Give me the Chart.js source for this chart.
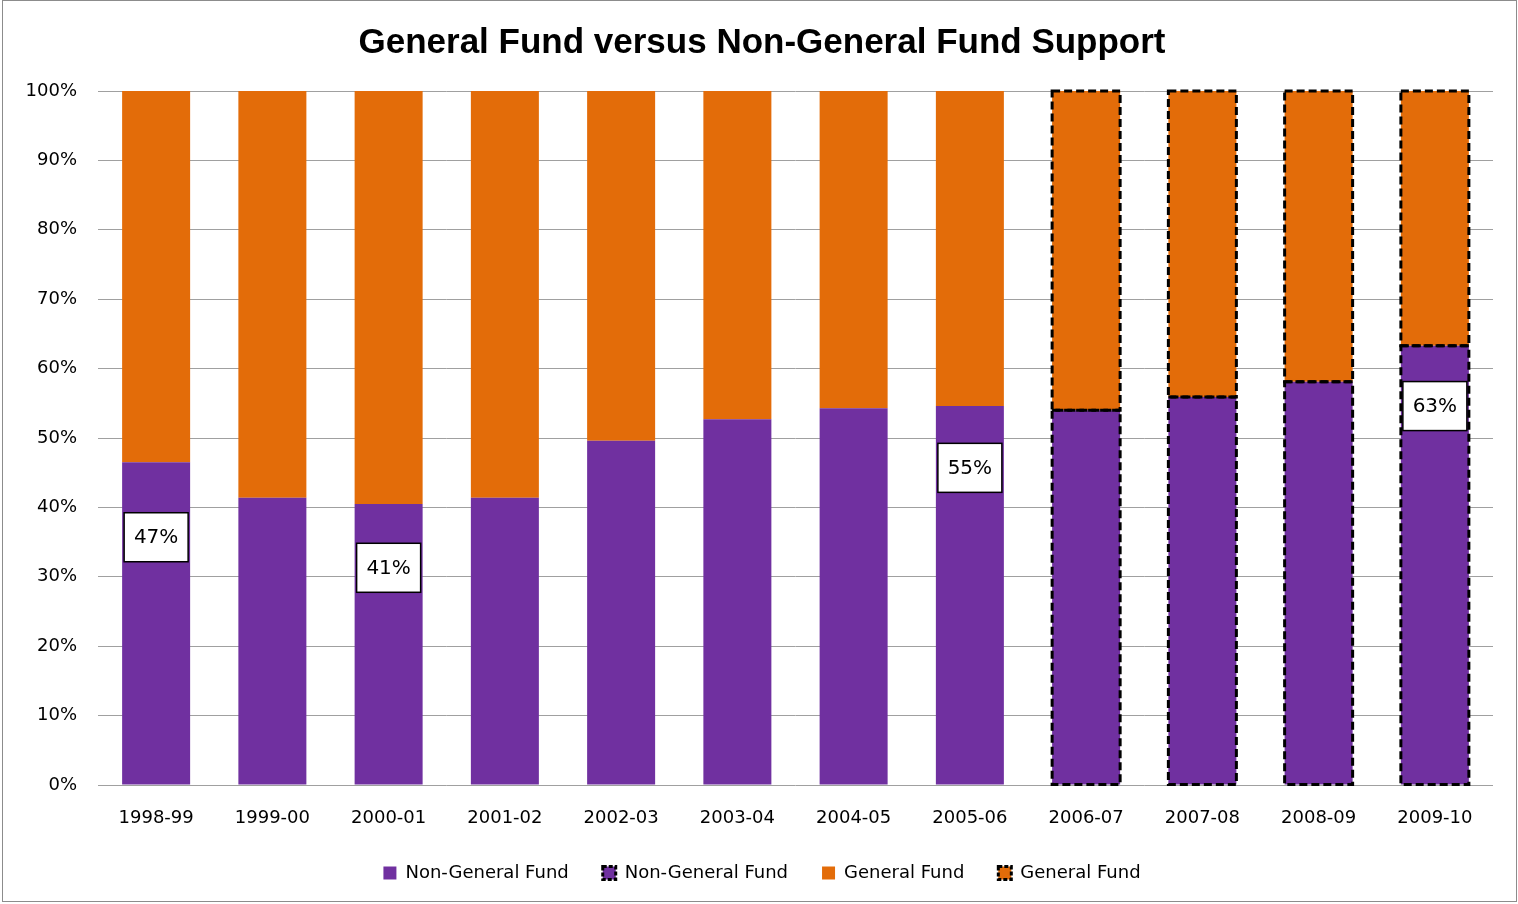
<!DOCTYPE html>
<html>
<head>
<meta charset="utf-8">
<script src="https://cdn.jsdelivr.net/npm/chart.js@4.4.1/dist/chart.umd.min.js"></script>
<style>
  html, body { margin: 0; padding: 0; background: #fff; }
  #wrap { width: 1518px; height: 904px; position: relative; }
</style>
</head>
<body>
<div id="wrap"><canvas id="c" width="1518" height="904"></canvas></div>
<script>
// ---- data ----
const categories = ['1998-99','1999-00','2000-01','2001-02','2002-03','2003-04','2004-05','2005-06','2006-07','2007-08','2008-09','2009-10'];
const nonGeneralActual   = [46.5, 41.4, 40.5, 41.4, 49.6, 52.7, 54.3, 54.6, null, null, null, null];
const nonGeneralProjected = [null, null, null, null, null, null, null, null, 54.0, 55.9, 58.1, 63.3];
const generalActual      = [53.5, 58.6, 59.5, 58.6, 50.4, 47.3, 45.7, 45.4, null, null, null, null];
const generalProjected   = [null, null, null, null, null, null, null, null, 46.0, 44.1, 41.9, 36.7];
const yTicks = [0, 10, 20, 30, 40, 50, 60, 70, 80, 90, 100];
// data label boxes: category index, text, value at which the box is centred
const labelIndex = [0, 2, 7, 11];
const labelText  = ['47%', '41%', '55%', '63%'];
const labelAt    = [35.7, 31.3, 45.7, 54.6];

const PURPLE = '#7030A0';
const ORANGE = '#E36C09';
const FONT = '"DejaVu Sans", sans-serif';

const dashedSets = [1, 3];

const framePlugin = {
  id: 'frame',
  beforeDraw(chart) {
    const ctx = chart.ctx;
    ctx.save();
    ctx.fillStyle = '#fff';
    ctx.fillRect(0, 0, chart.width, chart.height);
    ctx.restore();
  },
  afterDraw(chart) {
    const ctx = chart.ctx;
    ctx.save();
    ctx.strokeStyle = '#8c8c8c';
    ctx.lineWidth = 1;
    ctx.strokeRect(2.5, 0.5, 1514, 901);
    ctx.restore();
  }
};

const dashPlugin = {
  id: 'dashBorders',
  afterDatasetsDraw(chart) {
    const ctx = chart.ctx;
    ctx.save();
    ctx.strokeStyle = '#000';
    ctx.lineWidth = 3;
    ctx.setLineDash([8, 4]);
    dashedSets.forEach(di => {
      const meta = chart.getDatasetMeta(di);
      meta.data.forEach((bar, i) => {
        if (chart.data.datasets[di].data[i] == null) return;
        const p = bar.getProps(['x', 'y', 'base', 'width'], true);
        const l = p.x - p.width / 2, r = p.x + p.width / 2;
        const t = Math.min(p.y, p.base), b = Math.max(p.y, p.base);
        ctx.strokeRect(l, t, r - l, b - t);
      });
    });
    ctx.restore();

    // data labels
    const ys = chart.scales.y;
    const meta0 = chart.getDatasetMeta(0);
    const meta1 = chart.getDatasetMeta(1);
    ctx.save();
    ctx.font = '20px ' + FONT;
    ctx.textAlign = 'center';
    ctx.textBaseline = 'middle';
    labelIndex.forEach((ci, k) => {
      const bar = (nonGeneralActual[ci] != null ? meta0 : meta1).data[ci];
      const cx = bar.x;
      const cy = ys.getPixelForValue(labelAt[k]);
      const w = 64, h = 49;
      ctx.fillStyle = '#fff';
      ctx.fillRect(cx - w / 2, cy - h / 2, w, h);
      ctx.strokeStyle = '#000';
      ctx.lineWidth = 1.5;
      ctx.setLineDash([]);
      ctx.strokeRect(cx - w / 2, cy - h / 2, w, h);
      ctx.fillStyle = '#000';
      ctx.fillText(labelText[k], cx, cy + 1);
    });
    ctx.restore();
  }
};

new Chart(document.getElementById('c'), {
  type: 'bar',
  data: {
    labels: categories,
    datasets: [
      { label: 'Non-General Fund', data: nonGeneralActual, backgroundColor: PURPLE, borderWidth: 0 },
      { label: 'Non-General Fund', data: nonGeneralProjected, backgroundColor: PURPLE, borderWidth: 0 },
      { label: 'General Fund', data: generalActual, backgroundColor: ORANGE, borderWidth: 0 },
      { label: 'General Fund', data: generalProjected, backgroundColor: ORANGE, borderWidth: 0 }
    ]
  },
  options: {
    responsive: false,
    animation: false,
    devicePixelRatio: 1,
    layout: { padding: { left: 6, right: 0, top: 0, bottom: 12 } },
    datasets: { bar: { barPercentage: 0.585, categoryPercentage: 1.0 } },
    scales: {
      x: {
        stacked: true,
        grid: { display: false, drawTicks: false },
        border: { display: false },
        ticks: { color: '#000', font: { family: FONT, size: 18 }, padding: 23, maxRotation: 0 },
        afterFit(s) { s.height = 45; }
      },
      y: {
        stacked: true,
        min: 0, max: 100,
        afterBuildTicks(s) { s.ticks = yTicks.map(v => ({ value: v })); },
        grid: { color: '#a0a0a0', lineWidth: 1, drawTicks: false },
        border: { display: false },
        ticks: { color: '#000', font: { family: FONT, size: 18 }, padding: 21, callback: v => v + '%' },
        afterFit(s) { s.width = 92; }
      },
      yRight: {
        type: 'linear',
        position: 'right',
        min: 0, max: 100,
        grid: { display: false, drawTicks: false },
        border: { display: false },
        ticks: { display: false },
        afterFit(s) { s.width = 25; }
      }
    },
    plugins: {
      title: {
        display: true,
        text: 'General Fund versus Non-General Fund Support',
        color: '#000',
        font: { family: '"Liberation Sans", Arial, sans-serif', size: 35, weight: 'bold', lineHeight: 1.2 },
        padding: { top: 22, bottom: 27 }
      },
      legend: {
        position: 'bottom',
        labels: {
          color: '#000',
          font: { family: FONT, size: 18 },
          boxWidth: 13, boxHeight: 13,
          padding: 34,
          generateLabels(chart) {
            return chart.data.datasets.map((ds, i) => {
              const dashed = dashedSets.includes(i);
              return {
                text: ds.label,
                fillStyle: ds.backgroundColor,
                strokeStyle: '#000',
                lineWidth: dashed ? 3 : 0,
                lineDash: dashed ? [4, 2] : [],
                hidden: false,
                datasetIndex: i,
                fontColor: '#000'
              };
            });
          }
        }
      },
      tooltip: { enabled: false }
    }
  },
  plugins: [framePlugin, dashPlugin]
});
</script>
</body>
</html>
